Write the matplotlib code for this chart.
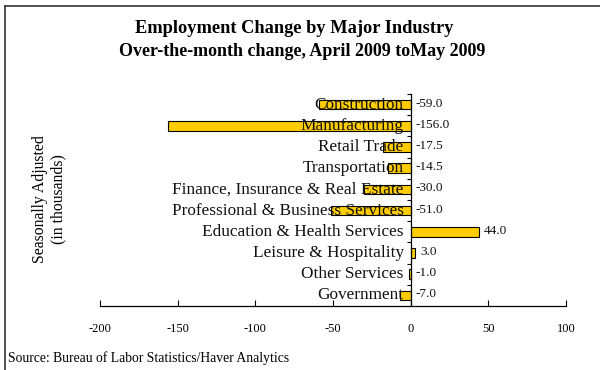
import matplotlib
matplotlib.use("Agg")
import matplotlib.pyplot as plt
from matplotlib.lines import Line2D

# Over-the-month change, April -> May 2009 (thousands, SA)
industries = [
    "Construction",
    "Manufacturing",
    "Retail Trade",
    "Transportation",
    "Finance, Insurance & Real Estate",
    "Professional & Business Services",
    "Education & Health Services",
    "Leisure & Hospitality",
    "Other Services",
    "Government",
]
changes = [-59.0, -156.0, -17.5, -14.5, -30.0, -51.0, 44.0, 3.0, -1.0, -7.0]
x_ticks = [-200, -150, -100, -50, 0, 50, 100]

plt.rcParams["font.family"] = ["Liberation Serif", "DejaVu Serif"]

fig = plt.figure(figsize=(6.0, 3.7), dpi=100)
ax = fig.add_axes([0.1667, 0.173, 0.7766, 0.573])

pos = list(range(len(industries)))
ax.barh(pos, changes, height=0.46, color="#FFCC00", edgecolor="black",
        linewidth=0.8, zorder=2)

ax.set_xlim(-200, 100)
ax.set_ylim(len(industries) - 0.5, -0.5)

# category names sit just left of the zero line, on top of the bars
for i, (name, v) in enumerate(zip(industries, changes)):
    ax.text(-4.5, i, name, ha="right", va="center", fontsize=12.4,
            color="#111111", zorder=3)
    ax.text(max(v, 0) + 3, i - 0.05, f"{v:.1f}", ha="left", va="center",
            fontsize=9.5, color="#111111", zorder=3)

for s in ("top", "right"):
    ax.spines[s].set_visible(False)
ax.spines["left"].set_position(("data", 0))
ax.spines["left"].set_zorder(4)
ax.spines["bottom"].set_linewidth(0.9)
ax.spines["left"].set_linewidth(0.9)

ax.set_yticks([p - 0.5 for p in pos] + [len(pos) - 0.5])
ax.set_yticklabels([])
ax.tick_params(axis="y", direction="out", length=3, width=0.8)
ax.set_xticks(x_ticks)
ax.set_xticklabels([str(t) for t in x_ticks])
ax.tick_params(axis="x", direction="in", length=4, width=0.8, labelsize=9,
               pad=12)

fig.text(0.082, 0.462, "Seasonally Adjusted\n(in thousands)", rotation=90,
         ha="center", va="center", fontsize=11.3, linespacing=1.2)

fig.text(0.49, 0.922, "Employment Change by Major Industry", ha="center",
         va="center", fontsize=13.2, fontweight="bold")
fig.text(0.503, 0.862, "Over-the-month change, April 2009 toMay 2009",
         ha="center", va="center", fontsize=13.0, fontweight="bold")

fig.text(0.013, 0.033, "Source: Bureau of Labor Statistics/Haver Analytics",
         ha="left", va="center", fontsize=9.8)

# frame along the top and left edges
fig.add_artist(Line2D([0.009, 1.0], [0.984, 0.984], transform=fig.transFigure,
                      color="#333333", linewidth=1.2))
fig.add_artist(Line2D([0.009, 0.009], [0.0, 0.984], transform=fig.transFigure,
                      color="#333333", linewidth=1.2))

fig.savefig("out.png", dpi=100)
